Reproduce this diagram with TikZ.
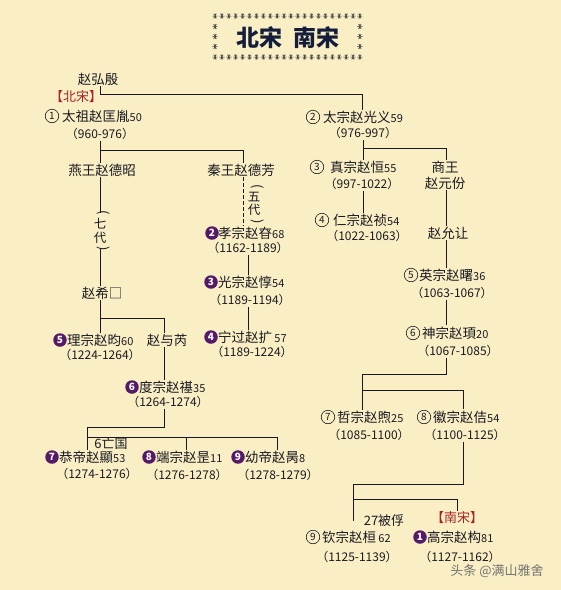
\documentclass[tikz,border=0pt]{standalone}
\usepackage{fontspec}
\setmainfont{Noto Sans CJK SC}
\usepackage{graphicx}
\usepackage{xcolor}
\usetikzlibrary{positioning}
\definecolor{paper}{RGB}{250,239,196}
\definecolor{inkdark}{RGB}{25,25,35}
\definecolor{songred}{RGB}{165,35,40}
\definecolor{emperor}{RGB}{85,25,105}
\definecolor{titleblue}{RGB}{20,30,60}
\definecolor{stargray}{RGB}{70,70,70}
\newcommand{\agenum}[1]{{\fontsize{11}{12}\selectfont #1}}
\newcommand{\vparen}[1]{\hspace*{7pt}\rotatebox{-90}{\fontsize{13}{13}\selectfont #1}}

\begin{document}
\begin{tikzpicture}[x=1pt, y=-1pt]
\tikzset{
  person/.style={anchor=west, inner sep=1pt, font=\fontsize{13.5}{14}\selectfont, text=inkdark},
  reign/.style={inner sep=1pt, font=\fontsize{12}{13}\selectfont, text=inkdark},
  plain/.style={inner sep=1pt, align=center, font=\fontsize{13.5}{16}\selectfont, text=inkdark},
  northnum/.style={circle, draw=inkdark, line width=0.6pt, inner sep=0pt, minimum size=13.5pt,
    font=\fontsize{10}{10}\selectfont, text=inkdark},
  southnum/.style={circle, fill=emperor, inner sep=0pt, minimum size=13.5pt,
    font=\fontsize{10}{10}\selectfont\bfseries, text=white},
  dyn/.style={inner sep=1pt, font=\fontsize{13}{14}\selectfont, text=songred},
  gen/.style={inner sep=0pt, align=center, font=\fontsize{12.5}{13.5}\selectfont, text=inkdark},
  note/.style={inner sep=1pt, font=\fontsize{13}{14}\selectfont, text=inkdark},
  tree/.style={draw=inkdark, line width=0.9pt},
  asterisk/.pic={\draw[stargray, line width=0.5pt] (-2.7,0) -- (2.7,0) (-1.35,-2.35) -- (1.35,2.35)
    (-1.35,2.35) -- (1.35,-2.35) (0,-2.7) -- (0,2.7);}
}
\fill[paper] (0,0) rectangle (561,590);
\useasboundingbox (0,0) rectangle (561,590);

% title box
\foreach \i in {0,...,21} {
  \pic at (215+\i*6.9,16) {asterisk};
  \pic at (215+\i*6.9,57) {asterisk};
}
\foreach \j in {26.5,36.5,46.5} {
  \pic at (215,\j) {asterisk};
  \pic at (359.9,\j) {asterisk};
}
\node[font=\fontsize{23}{24}\selectfont\bfseries, text=titleblue] (title) at (288,38) {北宋\hspace{0.5em}南宋};

% top of the tree
\node[plain] (hongyin) at (98,79) {赵弘殷};
\node[dyn] (beisong) at (76,97) {【北宋】};

% taizu line
\node[northnum] (m-taizu) at (52,116) {1};
\node[person] (n-taizu) at (61,116) {太祖赵匡胤\agenum{50}};
\node[reign] (d-taizu) at (100,134) {（960-976）};
\node[plain] (n-yan) at (102,170) {燕王赵德昭};
\node[plain] (n-qinwang) at (241,170) {秦王赵德芳};
\node[gen] (g-qi) at (100,231) {\vparen{(}\\[2pt]七\\代\\[-9pt]\vparen{)}};
\node[gen] (g-wu) at (254,204) {\vparen{(}\\[2pt]五\\代\\[-9pt]\vparen{)}};
\node[plain] (n-zhaoxi) at (102,293) {赵希□};

\node[southnum] (m-xiao) at (212,233) {2};
\node[person] (n-xiao) at (217,233) {孝宗赵昚\agenum{68}};
\node[reign] (d-xiao) at (248,248) {（1162-1189）};
\node[southnum] (m-guang) at (211,282) {3};
\node[person] (n-guang) at (217,282) {光宗赵惇\agenum{54}};
\node[reign] (d-guang) at (250,300) {（1189-1194）};
\node[southnum] (m-ning) at (211,337) {4};
\node[person] (n-ning) at (217,337) {宁过赵扩\,\agenum{57}};
\node[reign] (d-ning) at (252,352) {（1189-1224）};

\node[southnum] (m-lizong) at (60,340) {5};
\node[person] (n-lizong) at (66,340) {理宗赵昀\agenum{60}};
\node[reign] (d-lizong) at (100,355) {（1224-1264）};
\node[plain] (n-yurui) at (167,340) {赵与芮};
\node[southnum] (m-duzong) at (132,387) {6};
\node[person] (n-duzong) at (138,387) {度宗赵禥\agenum{35}};
\node[reign] (d-duzong) at (168,402) {（1264-1274）};
\node[note] (wangguo) at (111,444) {6亡国};

\node[southnum] (m-gongdi) at (52,457) {7};
\node[person] (n-gongdi) at (58,457) {恭帝赵顯\agenum{53}};
\node[reign] (d-gongdi) at (97,474) {（1274-1276）};
\node[southnum] (m-duanzong) at (149,457) {8};
\node[person] (n-duanzong) at (155,457) {端宗赵昰\agenum{11}};
\node[reign] (d-duanzong) at (187,475) {（1276-1278）};
\node[southnum] (m-youdi) at (238,457) {9};
\node[person] (n-youdi) at (244,457) {幼帝赵昺\agenum{8}};
\node[reign] (d-youdi) at (278,475) {（1278-1279）};

% taizong line
\node[northnum] (m-taizong) at (313,117) {2};
\node[person] (n-taizong) at (322,117) {太宗赵光义\agenum{59}};
\node[reign] (d-taizong) at (363,133) {（976-997）};
\node[northnum] (m-zhen) at (317,167) {3};
\node[person] (n-zhen) at (329,167) {真宗赵恒\agenum{55}};
\node[reign] (d-zhen) at (362,184) {（997-1022）};
\node[plain] (n-shang) at (445,175) {商王\\赵元份};
\node[northnum] (m-ren) at (322,220) {4};
\node[person] (n-ren) at (332,220) {仁宗赵祯\agenum{54}};
\node[reign] (d-ren) at (367,236) {（1022-1063）};
\node[plain] (n-yunrang) at (448,233) {赵允让};
\node[northnum] (m-ying) at (411,275) {5};
\node[person] (n-ying) at (418,275) {英宗赵曙\agenum{36}};
\node[reign] (d-ying) at (452,293) {（1063-1067）};
\node[northnum] (m-shen) at (413,333) {6};
\node[person] (n-shen) at (421,333) {神宗赵頊\agenum{20}};
\node[reign] (d-shen) at (458,351) {（1067-1085）};
\node[northnum] (m-zhe) at (328,417) {7};
\node[person] (n-zhe) at (336,417) {哲宗赵煦\agenum{25}};
\node[reign] (d-zhe) at (369,435) {（1085-1100）};
\node[northnum] (m-hui) at (424,417) {8};
\node[person] (n-hui) at (432,417) {徽宗赵佶\agenum{54}};
\node[reign] (d-hui) at (465,435) {（1100-1125）};
\node[note] (beifu) at (384,521) {27被俘};
\node[dyn] (nansong) at (457,518) {【南宋】};
\node[northnum] (m-qinzong) at (313,537) {9};
\node[person] (n-qinzong) at (321,537) {钦宗赵桓\,\agenum{62}};
\node[reign] (d-qinzong) at (357,557) {（1125-1139）};
\node[southnum] (m-gao) at (420,537) {1};
\node[person] (n-gao) at (426,537) {高宗赵构\agenum{81}};
\node[reign] (d-gao) at (460,557) {（1127-1162）};

\node[inner sep=0pt, font=\fontsize{13}{14}\selectfont, text=black!55] (mark) at (497,571) {头条 @满山雅舍};

% connectors
\coordinate (b0) at (362,94);
\draw[tree] (d-taizu.south |- hongyin.south) |- (b0) -- (b0 |- n-taizong.north);
\coordinate (b1) at (243,150);
\draw[tree] (d-taizu.south) |- (b1) -- (b1 |- n-qinwang.north);
\draw[tree] (d-taizu.south) -- (d-taizu.south |- n-yan.north);
\draw[tree] (g-qi.north |- n-yan.south) -- ([yshift=-2pt]g-qi.north);
\draw[tree] ([yshift=2pt]g-qi.south) -- (g-qi.south |- n-zhaoxi.north);
\coordinate (b3) at (164,318);
\draw[tree] (g-qi.south |- n-zhaoxi.south) -- (g-qi.south |- n-lizong.north);
\draw[tree] (g-qi.south |- b3) -- (b3) -- (b3 |- n-yurui.north);
\draw[tree] (b3 |- n-yurui.south) -- (b3 |- n-duzong.north);
\coordinate (b6a) at (87,427);
\coordinate (b6b) at (277,437);
\coordinate (b6c) at (186,437);
\draw[tree] (b3 |- d-duzong.south) |- (b6a) -- (b6a |- n-gongdi.north);
\draw[tree] (b6a |- b6b) -- (b6b) -- (b6b |- n-youdi.north);
\draw[tree] (b6c) -- (b6c |- n-duanzong.north);

\draw[tree, dash pattern=on 4pt off 2pt] (b1 |- n-qinwang.south) -- (b1 |- n-xiao.north);
\draw[tree] (d-xiao.south) -- (d-xiao.south |- n-guang.north);
\draw[tree] (d-xiao.south |- d-guang.south) -- (d-xiao.south |- n-ning.north);

\coordinate (b2) at (446,148);
\draw[tree] (d-taizong.south) -- (d-taizong.south |- n-zhen.north);
\draw[tree] (d-taizong.south |- b2) -- (b2) -- (b2 |- n-shang.north);
\draw[tree] (d-taizong.south |- d-zhen.south) -- (d-taizong.south |- n-ren.north);
\draw[tree] (b2 |- n-shang.south) -- (b2 |- n-yunrang.north);
\draw[tree] (b2 |- n-yunrang.south) -- (b2 |- n-ying.north);
\draw[tree] (b2 |- d-ying.south) -- (b2 |- n-shen.north);
\coordinate (b7a) at (362,374);
\coordinate (b7b) at (463,390);
\draw[tree] (b2 |- d-shen.south) |- (b7a) -- (b7a |- n-zhe.north);
\draw[tree] (b7a |- b7b) -- (b7b) -- (b7b |- n-hui.north);
\coordinate (b8a) at (353,484);
\coordinate (b8b) at (457,499);
\draw[tree] (b7b |- d-hui.south) |- (b8a) -- (b8a |- beifu.center);
\draw[tree] (b8a |- b8b) -- (b8b) -- (b8b |- nansong.north);
\end{tikzpicture}
\end{document}
